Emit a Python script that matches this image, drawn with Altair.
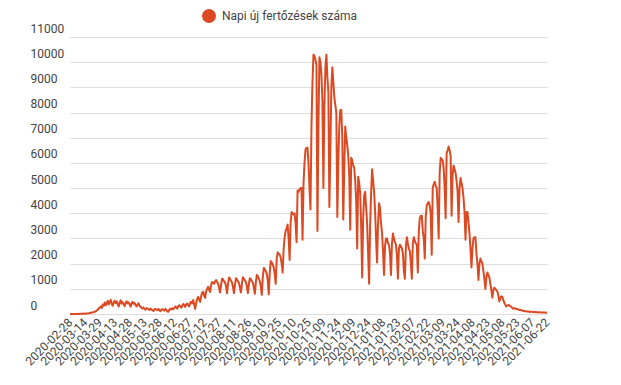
import altair as alt
import pandas as pd

START_DATE = "2020-02-28"
SERIES_NAME = "Napi új fertőzések száma"

# daily values, starting 2020-02-28 (one per day)
daily_cases = [
    0, 0, 0, 0, 2, 0, 2, 3, 5, 4,
    7, 6, 10, 12, 15, 14, 18, 20, 25, 30,
    40, 50, 60, 55, 80, 90, 110, 140, 180, 220,
    260, 300, 240, 380, 330, 460, 350, 420, 520, 380,
    480, 560, 400, 330, 470, 520, 430, 500, 380, 300,
    450, 540, 410, 470, 390, 310, 440, 500, 420, 460,
    380, 290, 430, 480, 410, 440, 350, 300, 380, 420,
    330, 290, 250, 220, 260, 200, 170, 230, 210, 190,
    160, 220, 180, 140, 120, 190, 200, 170, 150, 200,
    140, 110, 180, 190, 160, 130, 200, 160, 100, 90,
    170, 210, 180, 230, 190, 240, 300, 260, 210, 320,
    350, 300, 250, 330, 400, 360, 280, 380, 420, 350,
    300, 450, 480, 420, 560, 380, 200, 450, 600, 680,
    560, 480, 700, 850, 880, 720, 640, 900, 1000, 1080,
    950, 880, 1150, 1270, 1250, 1200, 1300, 1350, 1280, 1200,
    1050, 850, 1150, 1400, 1380, 1300, 1260, 1100, 820, 1200,
    1450, 1400, 1320, 1250, 1080, 830, 1150, 1420, 1370, 1300,
    1230, 1050, 850, 1200, 1460, 1400, 1330, 1270, 1100, 830,
    1180, 1420, 1380, 1300, 1250, 1050, 800, 1250, 1550, 1500,
    1400, 1300, 1100, 760, 1450, 1830, 1780, 1700, 1600, 1350,
    780, 1650, 2100, 2050, 1950, 1850, 1600, 1200, 2200, 2450,
    2400, 2350, 2250, 2000, 1650, 2600, 3050, 3300, 3400, 3550,
    3000, 2150, 3600, 4050, 4000, 3950, 4000, 3600, 2850, 4900,
    4850, 4950, 5000, 5000, 2950, 5200, 6000, 6530, 6600, 6600,
    6000, 5000, 4150, 7500, 9200, 10300, 10250, 10100, 9900, 3300,
    7500, 10200, 10000, 9500, 8500, 5000, 8200, 9800, 10300, 9400,
    8800, 4250, 6500, 9000, 9800, 9200, 8600, 8300, 8000, 3850,
    6000, 7500, 8100, 8100, 7000, 3750, 5800, 7450, 7000, 6700,
    6300, 5500, 3350, 6200, 6100, 5900, 5800, 5300, 4500, 2600,
    5450, 5200, 4800, 3500, 1450, 3800, 4700, 4850, 4250, 3600,
    2400, 1200, 3500, 4800, 5750, 5300, 4850, 4100, 3000, 2050,
    3600, 4400, 4200, 3600, 3200, 2500, 1550, 2700, 3000, 3000,
    2800, 2750, 2400, 1550, 2800, 3200, 3000, 2850, 2750, 2300,
    1400, 2600, 2750, 2700, 2600, 2400, 1700, 1400, 2700, 3050,
    2800, 2600, 2500, 2000, 1400, 2800, 3050, 2900, 2800, 2750,
    1650, 3300, 3800, 3900, 3900, 3300, 3000, 2200, 3900, 4300,
    4400, 4450, 4300, 4000, 2350, 5000, 5150, 5250, 5100, 5000,
    4200, 3000, 5600, 6200, 6150, 6100, 5800, 5000, 3800, 6400,
    6500, 6650, 6500, 6300, 3900, 5500, 5900, 5750, 5600, 5300,
    4900, 3650, 5000, 5400, 5200, 5000, 4600, 4050, 2950, 4050,
    4050, 3650, 3200, 2600, 1850, 2600, 3000, 3050, 3050, 2400,
    2000, 1350, 2000, 2200, 2100, 2000, 1700, 1400, 1000, 1450,
    1650, 1550, 1450, 1200, 950, 650, 950, 1050, 1000, 950,
    900, 750, 500, 620, 700, 680, 560, 450, 380, 300,
    330, 360, 350, 320, 280, 250, 210, 230, 220, 200,
    200, 180, 160, 170, 150, 140, 130, 120, 110, 110,
    100, 100, 90, 80, 95, 85, 75, 70, 80, 75,
    70, 60, 70, 65, 60, 55, 65, 60, 55, 50, 60,
]

x_tick_labels = [
    "2020-02-28", "2020-03-14", "2020-03-29", "2020-04-13", "2020-04-28",
    "2020-05-13", "2020-05-28", "2020-06-12", "2020-06-27", "2020-07-12",
    "2020-07-27", "2020-08-11", "2020-08-26", "2020-09-10", "2020-09-25",
    "2020-10-10", "2020-10-25", "2020-11-09", "2020-11-24", "2020-12-09",
    "2020-12-24", "2021-01-08", "2021-01-23", "2021-02-07", "2021-02-22",
    "2021-03-09", "2021-03-24", "2021-04-08", "2021-04-23", "2021-05-08",
    "2021-05-23", "2021-06-07", "2021-06-22",
]

y_tick_values = [0, 1000, 2000, 3000, 4000, 5000, 6000, 7000, 8000, 9000, 10000, 11000]

dates = pd.date_range(START_DATE, periods=len(daily_cases), freq="D").strftime("%Y-%m-%d")
df = pd.DataFrame({"date": list(dates), "cases": daily_cases, "series": SERIES_NAME})

FONT = "Roboto"
LINE_COLOR = "#db4a23"
TEXT_COLOR = "#444444"

chart = alt.Chart(df).mark_line(strokeWidth=2, strokeJoin="round").encode(
    x=alt.X(
        "date:O",
        sort=None,
        scale=alt.Scale(type="point", range=[42, 519], padding=0),
        axis=alt.Axis(
            values=x_tick_labels, title=None, labelAngle=-45, labelAlign="right",
            labelBaseline="middle", labelPadding=6, ticks=False, tickSize=0,
            domain=False, grid=False, labelFontSize=12, labelColor=TEXT_COLOR,
            labelFont=FONT, labelOverlap=False,
        ),
    ),
    y=alt.Y(
        "cases:Q",
        scale=alt.Scale(domain=[0, 11000], nice=False),
        axis=alt.Axis(
            values=y_tick_values, format="d", title=None, orient="left",
            labelAlign="left", labelBaseline="bottom", labelPadding=-2, labelOffset=-2,
            ticks=False, tickSize=0, domain=False, grid=True, gridColor="#dddddd",
            labelFontSize=12, labelColor=TEXT_COLOR, labelFont=FONT,
        ),
    ),
    color=alt.Color(
        "series:N",
        scale=alt.Scale(range=[LINE_COLOR]),
        legend=alt.Legend(
            title=None, orient="none", legendX=174, legendY=-28,
            symbolType="circle", symbolSize=154, symbolFillColor=LINE_COLOR,
            symbolStrokeColor=LINE_COLOR, labelFontSize=12, labelColor=TEXT_COLOR,
            labelFont=FONT, labelOffset=6,
        ),
    ),
).properties(
    width=522,
    height=277,
    autosize=alt.AutoSizeParams(type="none"),
    padding={"left": 20, "top": 29, "right": 50, "bottom": 60},
).configure_view(stroke=None)

chart.save("out.html", embed_options={"renderer": "svg", "actions": False})
